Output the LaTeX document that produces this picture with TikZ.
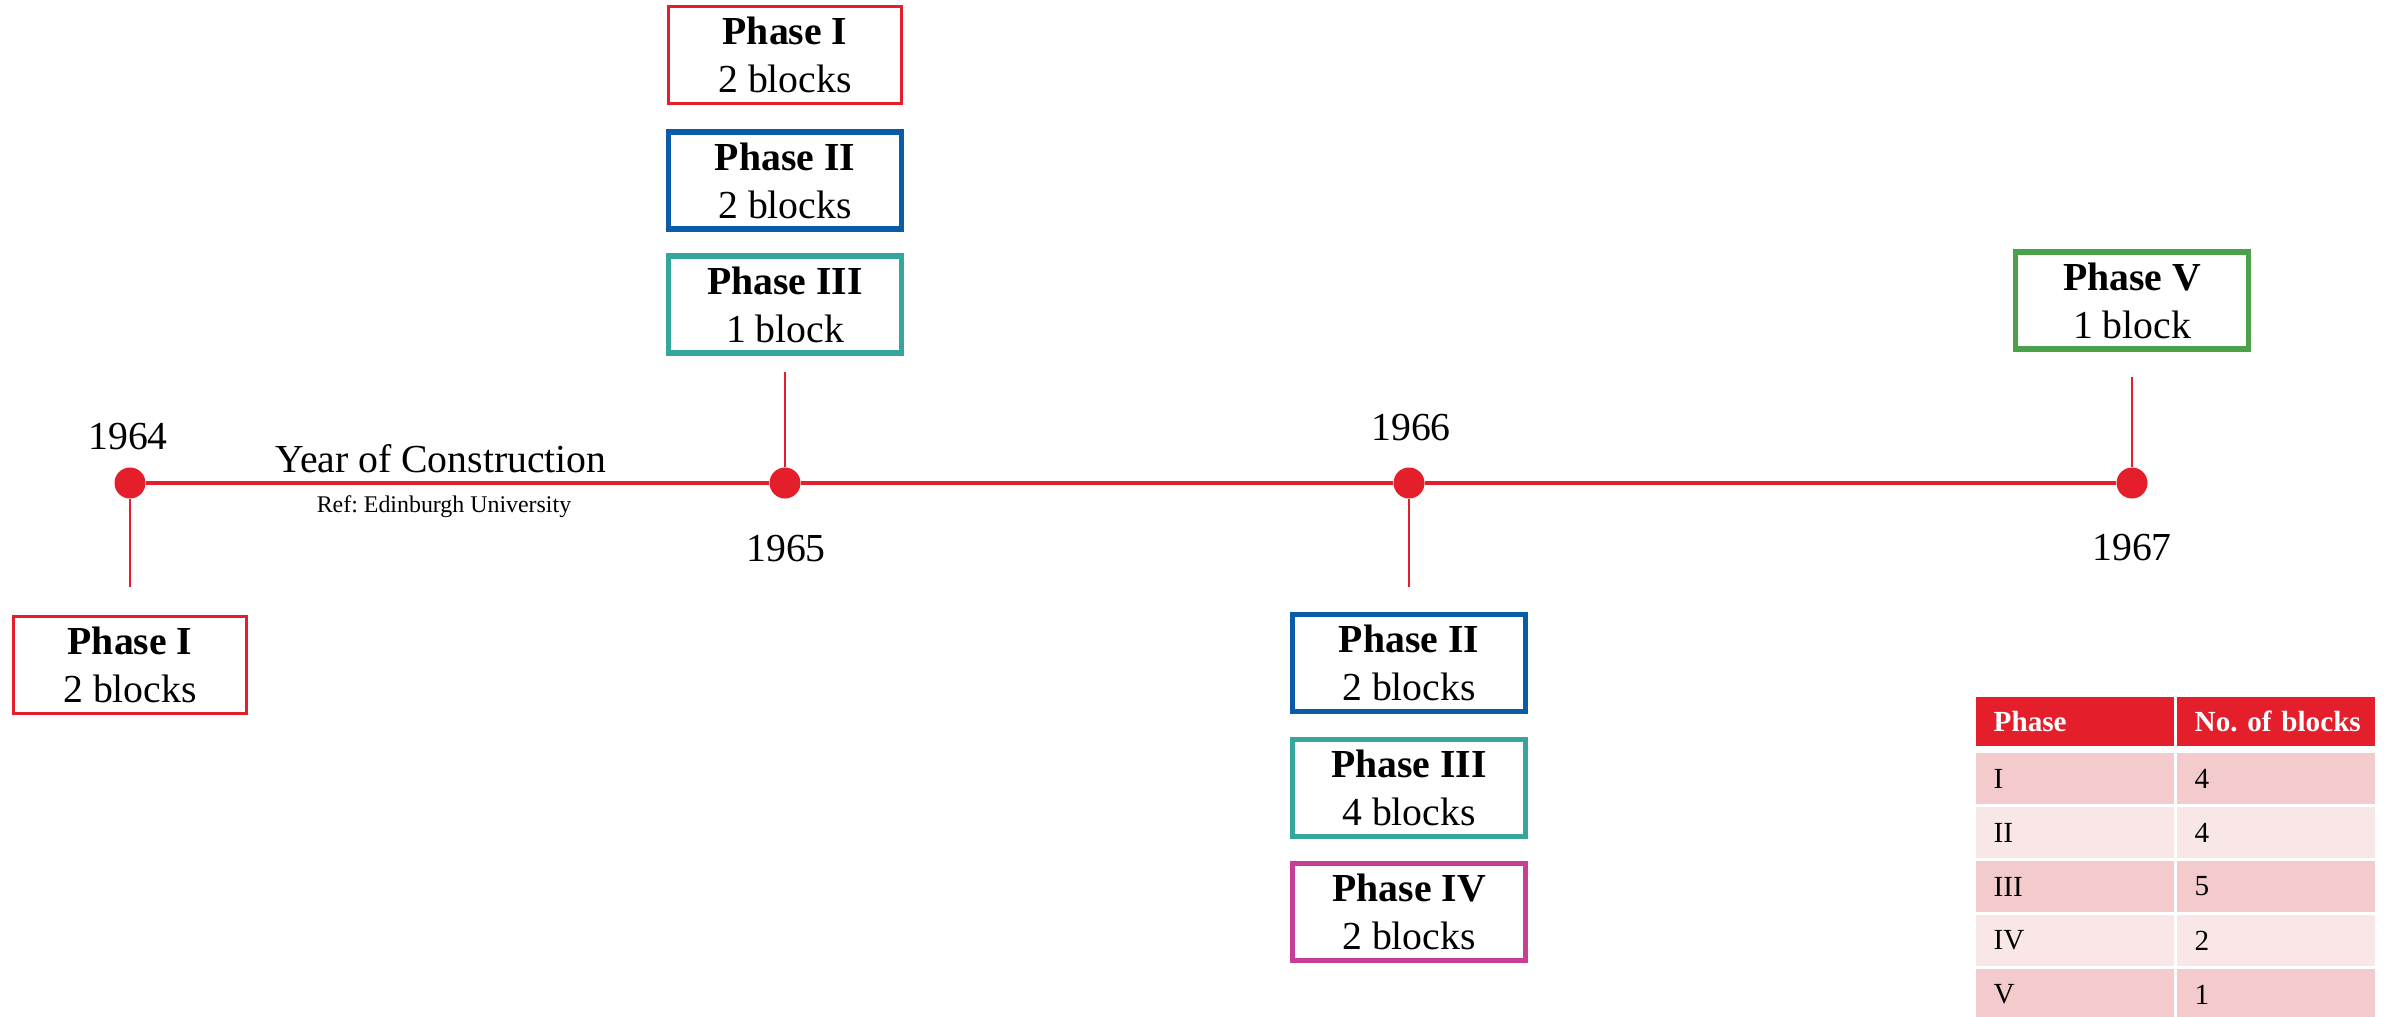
\documentclass[tikz,border=0pt]{standalone}
\usepackage{fontspec}
\setmainfont{Liberation Serif}
\usetikzlibrary{positioning}
\frenchspacing
\definecolor{tlred}{RGB}{228,30,43}
\definecolor{phblue}{RGB}{10,92,168}
\definecolor{phteal}{RGB}{52,166,157}
\definecolor{phmagenta}{RGB}{200,62,150}
\definecolor{phgreen}{RGB}{76,160,72}
\definecolor{rowdark}{RGB}{243,203,204}
\definecolor{rowlight}{RGB}{249,231,231}
\tikzset{
	phasebox/.style={draw, fill=white, line width=0.057cm, minimum width=2.33cm, minimum height=0.97cm, inner sep=0pt, align=center, font=\fontsize{11.3}{13.7}\selectfont},
	yearlabel/.style={inner sep=0pt, font=\fontsize{11.3}{13.7}\selectfont},
	tldot/.style={circle, fill=tlred, inner sep=0pt, minimum size=0.31cm},
	stem/.style={draw=tlred, line width=0.015cm},
	tcell/.style={anchor=north west, inner sep=0pt, text width=1.98cm, minimum height=0.515cm, align=left, execute at begin node={\hspace*{0.18cm}}, font=\fontsize{8.3}{10}\selectfont}
}

\begin{document}
\begin{tikzpicture}
			%%%%% START %%%%%
			\useasboundingbox (0, 0) rectangle (23.91, -10.16);
			\clip (0, 0) rectangle (23.91, -10.16);
			
			% timeline
			\node[tldot] (d64) at (1.30, -4.83) {};
			\node[tldot] (d65) at (7.85, -4.83) {};
			\node[tldot] (d66) at (14.09, -4.83) {};
			\node[tldot] (d67) at (21.32, -4.83) {};
			\draw[tlred, line width=0.045cm] (d64) -- (d65) -- (d66) -- (d67);
			
			\node[yearlabel] (y64) at (1.28, -4.37) {1964};
			\node[yearlabel] (y65) at (7.86, -5.49) {1965};
			\node[yearlabel] (y66) at (14.11, -4.275) {1966};
			\node[yearlabel] (y67) at (21.32, -5.48) {1967};
			
			\node[yearlabel] (title) at (4.41, -4.59) {Year of Construction};
			\node[anchor=base, inner sep=0pt, font=\fontsize{6.8}{8}\selectfont] (ref) at (4.44, -5.127) {Ref: Edinburgh University};
			
			% 1964
			\node[phasebox, draw=tlred, line width=0.027cm] (b64) at (1.30, -6.65) {\textbf{Phase I}\\2 blocks};
			\coordinate (s64) at (1.30, -5.87);
			\draw[stem] (d64) -- (s64);
			
			% 1965
			\node[phasebox, draw=tlred, line width=0.027cm] (b65a) at (7.85, -0.55) {\textbf{Phase I}\\2 blocks};
			\node[phasebox, draw=phblue] (b65b) at (7.85, -1.805) {\textbf{Phase II}\\2 blocks};
			\node[phasebox, draw=phteal] (b65c) at (7.85, -3.045) {\textbf{Phase III}\\1 block};
			\coordinate (s65) at (7.85, -3.72);
			\draw[stem] (d65) -- (s65);
			
			% 1966
			\node[phasebox, draw=phblue] (b66a) at (14.09, -6.63) {\textbf{Phase II}\\2 blocks};
			\node[phasebox, draw=phteal] (b66b) at (14.09, -7.88) {\textbf{Phase III}\\4 blocks};
			\node[phasebox, draw=phmagenta] (b66c) at (14.09, -9.12) {\textbf{Phase IV}\\2 blocks};
			\coordinate (s66) at (14.09, -5.87);
			\draw[stem] (d66) -- (s66);
			
			% 1967
			\node[phasebox, draw=phgreen] (b67) at (21.32, -3.005) {\textbf{Phase V}\\1 block};
			\coordinate (s67) at (21.32, -3.77);
			\draw[stem] (d67) -- (s67);
			
			% table
			\node[tcell, fill=tlred, text=white, minimum height=0.49cm] (hph) at (19.75, -6.96) {\textbf{Phase}};
			\node[tcell, fill=tlred, text=white, minimum height=0.49cm] (hnb) at (21.76, -6.96) {\textbf{No. of blocks}};
			\foreach \ph/\nb [count=\i] in {I/4, II/4, III/5, IV/2, V/1}{
				\ifodd\i \def\rowfill{rowdark}\else \def\rowfill{rowlight}\fi
				\node[tcell, fill=\rowfill] (p\i) at (19.75, {-7.52-0.54*(\i-1)}) {\ph};
				\node[tcell, fill=\rowfill] (n\i) at (21.76, {-7.52-0.54*(\i-1)}) {\nb};
			}
			
			%%%%% END %%%%%
\end{tikzpicture}
\end{document}
